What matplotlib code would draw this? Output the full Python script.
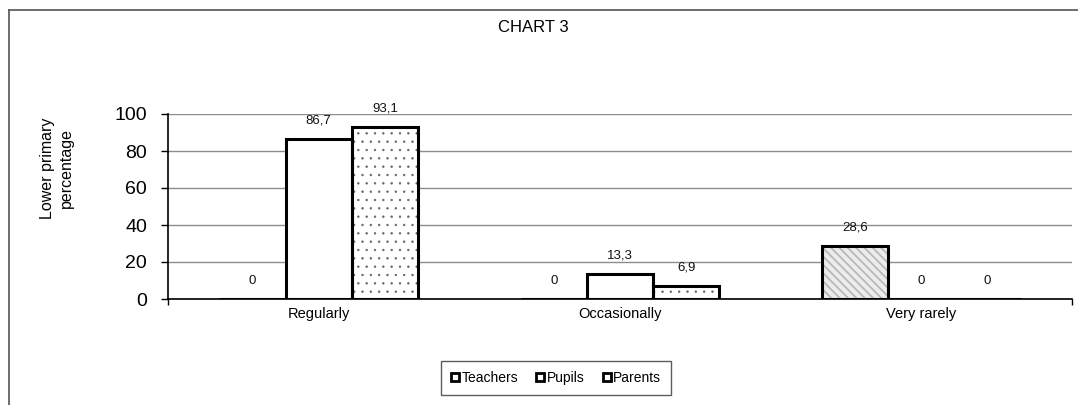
"""Bar chart: how often lower-primary respondents report the activity, by group."""

import matplotlib

matplotlib.use("Agg")
import matplotlib.pyplot as plt  # noqa: E402
from matplotlib.lines import Line2D  # noqa: E402

plt.rcParams["font.family"] = ["Liberation Sans", "DejaVu Sans"]

categories = ["Regularly", "Occasionally", "Very rarely"]
series = ["Teachers", "Pupils", "Parents"]
teachers = [0, 0, 28.6]
pupils = [86.7, 13.3, 0]
parents = [93.1, 6.9, 0]
y_ticks = [0, 20, 40, 60, 80, 100]

W, H = 1078, 405
fig = plt.figure(figsize=(W / 100, H / 100), dpi=100)
ax = fig.add_axes([168 / W, 1 - 299 / H, (1072 - 168) / W, (299 - 114) / H])

# outer chart frame (left and top edges visible)
fig.add_artist(Line2D([9 / W, 9 / W], [0, 1 - 10 / H], color="#555555", lw=1.2))
fig.add_artist(Line2D([9 / W, 1], [1 - 10 / H, 1 - 10 / H], color="#555555", lw=1.2))

bw = 0.22
x = list(range(len(categories)))
styles = [
    dict(face="#ececec", hatch="\\\\\\\\", hcolor="#b8b8b8", hlw=1.3),
    dict(face="white", hatch=None, hcolor="white", hlw=1.0),
    dict(face="white", hatch="..", hcolor="#666666", hlw=0.5),
]
for k, (vals, st) in enumerate(zip([teachers, pupils, parents], styles)):
    pos = [xi + (k - 1) * bw for xi in x]
    # pattern fill first, heavy outline on top
    with plt.rc_context({"hatch.linewidth": st["hlw"]}):
        ax.bar(pos, vals, width=bw, color=st["face"], hatch=st["hatch"],
               edgecolor=st["hcolor"], linewidth=0, zorder=2)
    ax.bar(pos, vals, width=bw, fill=False, edgecolor="black",
           linewidth=2.2, zorder=3)
    for p, v in zip(pos, vals):
        ax.annotate(f"{v:g}".replace(".", ","), (p, v), xytext=(0, 9),
                    textcoords="offset points", ha="center", va="bottom",
                    fontsize=9.5, color="#111111")

ax.set_xlim(-0.5, len(categories) - 0.5)
ax.set_ylim(0, 100)
ax.set_yticks(y_ticks)
ax.set_yticklabels([str(t) for t in y_ticks], fontsize=14)
ax.set_xticks(x)
ax.set_xticklabels(categories, fontsize=10.5)
ax.tick_params(axis="x", length=0, pad=6)
ax.set_xticks([-0.5, len(categories) - 0.5], minor=True)
ax.tick_params(axis="x", which="minor", length=4, width=1, direction="out")
ax.tick_params(axis="y", length=5, width=1, direction="out", pad=10)
ax.grid(axis="y", color="#8c8c8c", linewidth=1, zorder=0)
for side in ("top", "right"):
    ax.spines[side].set_visible(False)
for side in ("left", "bottom"):
    ax.spines[side].set_linewidth(1.2)

fig.text(533 / W, 1 - 27 / H, "CHART 3", ha="center", va="center", fontsize=12)
fig.text(57 / W, 1 - 168 / H, "Lower primary\npercentage", rotation=90,
         ha="center", va="center", fontsize=11.5, linespacing=1.35)

handles = [Line2D([], [], marker="s", linestyle="none", markersize=5.5,
                  markerfacecolor="white", markeredgecolor="black",
                  markeredgewidth=2) for _ in series]
leg = fig.legend(handles, series, loc="center", bbox_to_anchor=(556 / W, 1 - 378 / H),
                 ncol=3, fontsize=10, frameon=True, fancybox=False,
                 handlelength=0.6, handletextpad=0.15, columnspacing=1.3,
                 borderpad=0.75)
leg.get_frame().set_edgecolor("#333333")
leg.get_frame().set_linewidth(1)

fig.savefig("out.png", dpi=100)
